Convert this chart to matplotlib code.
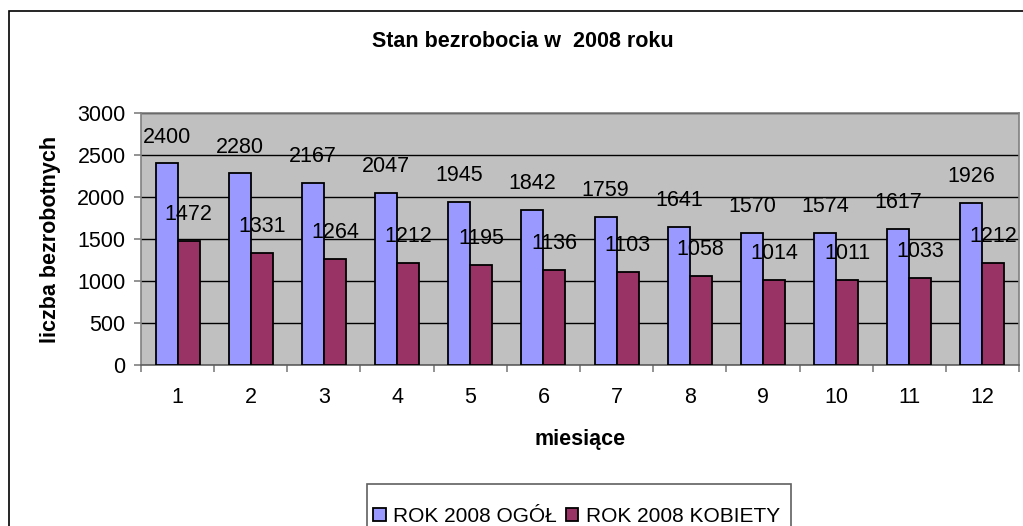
import numpy as np
import matplotlib
matplotlib.use('Agg')
import matplotlib.pyplot as plt
from matplotlib.patches import Rectangle

plt.rcParams['font.family'] = ['Liberation Sans', 'DejaVu Sans']

# dane
miesiace = ['1', '2', '3', '4', '5', '6', '7', '8', '9', '10', '11', '12']
ogol = [2400, 2280, 2167, 2047, 1945, 1842, 1759, 1641, 1570, 1574, 1617, 1926]
kobiety = [1472, 1331, 1264, 1212, 1195, 1136, 1103, 1058, 1014, 1011, 1033, 1212]

W, H = 1023, 526
fig = plt.figure(figsize=(W / 100, H / 100), dpi=100)
ax = fig.add_axes([141 / W, 1 - 365 / H, 878 / W, 252 / H])

# ramka wykresu
fig.patches.append(Rectangle((9 / W, -0.1), 1.2, (526 - 11) / H + 0.1,
                             transform=fig.transFigure, fill=False,
                             edgecolor='#000000', linewidth=1.2, zorder=0))

x = np.arange(len(miesiace))
bw = 0.30
b1 = ax.bar(x - bw / 2, ogol, bw, color='#9999FF', edgecolor='black',
            linewidth=1.3, label='ROK 2008 OGÓŁ', zorder=3)
b2 = ax.bar(x + bw / 2, kobiety, bw, color='#993366', edgecolor='black',
            linewidth=1.3, label='ROK 2008 KOBIETY', zorder=3)

for bars, vals in [(b1, ogol), (b2, kobiety)]:
    for r, v in zip(bars, vals):
        ax.annotate(str(v), (r.get_x() + r.get_width() / 2, v),
                    xytext=(0, 19), textcoords='offset points',
                    ha='center', va='center', fontsize=15.5, zorder=5)

ax.set_facecolor('#C0C0C0')
ax.set_xlim(-0.5, len(miesiace) - 0.5)
ax.set_ylim(0, 3000)
ax.set_yticks(np.arange(0, 3001, 500))
ax.yaxis.grid(True, color='black', linewidth=1.0, zorder=1)
ax.set_axisbelow(True)

ax.set_xticks(np.arange(-0.5, len(miesiace), 1.0))
ax.set_xticklabels([])
ax.set_xticks(x, minor=True)
ax.set_xticklabels(miesiace, minor=True)
ax.tick_params(axis='x', which='major', length=5, color='#808080', width=1.2)
ax.tick_params(axis='x', which='minor', length=0, pad=16, labelsize=15.5)
ax.tick_params(axis='y', length=5, color='#808080', width=1.2, pad=6, labelsize=15.5)

for s in ['top', 'right']:
    ax.spines[s].set_color('#808080')
    ax.spines[s].set_linewidth(1.2)
ax.spines['left'].set_color('#808080')
ax.spines['left'].set_linewidth(1.2)
ax.spines['bottom'].set_color('#606060')
ax.spines['bottom'].set_linewidth(1.2)

ax.set_ylabel('liczba bezrobotnych', fontsize=15.5, fontweight='bold', labelpad=12)
ax.set_xlabel('miesiące', fontsize=15.5, fontweight='bold', labelpad=15)
fig.text(523 / W, 1 - 41 / H, 'Stan bezrobocia w  2008 roku', ha='center', va='center',
         fontsize=15.5, fontweight='bold')

# legenda
fig.patches.append(Rectangle((367 / W, -0.1), (791 - 367) / W, 1 - 484 / H + 0.1,
                             transform=fig.transFigure, fill=False,
                             edgecolor='#606060', linewidth=1.2))
fig.legend(handles=[b1, b2], loc='center left', bbox_to_anchor=(373 / W, 1 - 516 / H),
           ncol=2, frameon=False, fontsize=15, handlelength=0.6, handleheight=0.6,
           handletextpad=0.35, columnspacing=0.45, borderpad=0, borderaxespad=0)

fig.savefig('out.png', dpi=100)
